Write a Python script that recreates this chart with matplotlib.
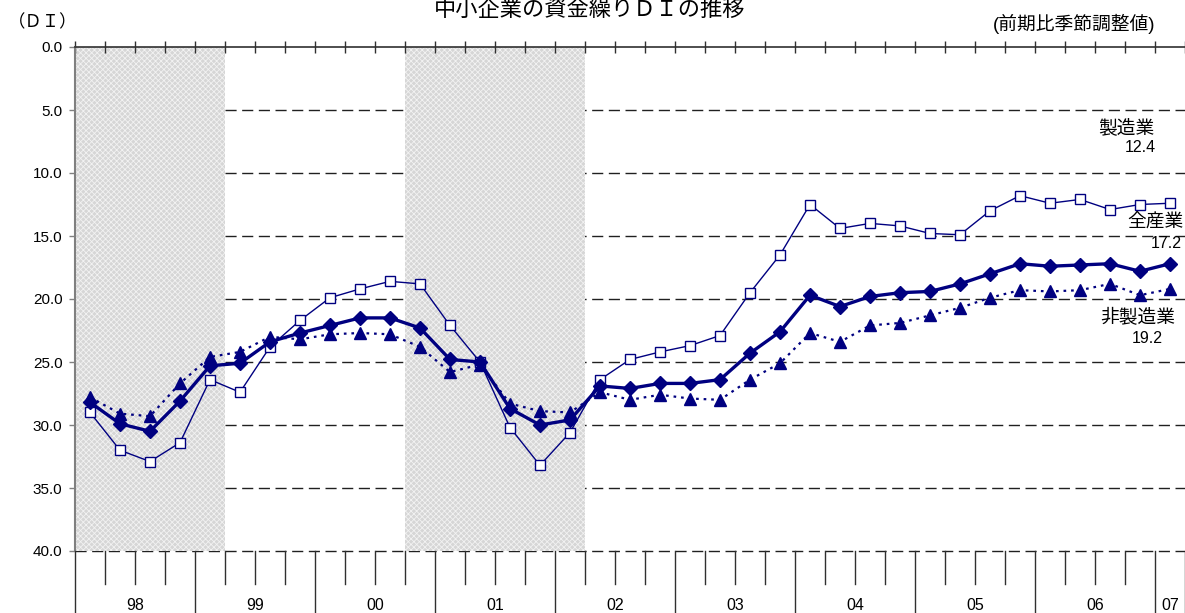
import matplotlib
matplotlib.use("Agg")
import matplotlib.pyplot as plt
import numpy as np

plt.rcParams['font.family'] = ['Liberation Sans', 'Noto Sans CJK JP', 'DejaVu Sans']
plt.rcParams['hatch.linewidth'] = 0.6

# Quarterly data, 1998Q1 .. 2007Q1
quarters = ["98Q1", "98Q2", "98Q3", "98Q4", "99Q1", "99Q2", "99Q3", "99Q4",
            "00Q1", "00Q2", "00Q3", "00Q4", "01Q1", "01Q2", "01Q3", "01Q4",
            "02Q1", "02Q2", "02Q3", "02Q4", "03Q1", "03Q2", "03Q3", "03Q4",
            "04Q1", "04Q2", "04Q3", "04Q4", "05Q1", "05Q2", "05Q3", "05Q4",
            "06Q1", "06Q2", "06Q3", "06Q4", "07Q1"]

all_industries = [28.2, 29.9, 30.5, 28.1, 25.3, 25.1, 23.4, 22.7,
                  22.1, 21.5, 21.5, 22.3, 24.8, 25.0, 28.7, 30.0,
                  29.6, 26.9, 27.1, 26.7, 26.7, 26.4, 24.3, 22.6,
                  19.7, 20.6, 19.8, 19.5, 19.4, 18.8, 18.0, 17.2,
                  17.4, 17.3, 17.2, 17.8, 17.2]

manufacturing = [29.0, 32.0, 32.9, 31.4, 26.4, 27.4, 23.8, 21.7,
                 19.9, 19.2, 18.6, 18.8, 22.1, 25.0, 30.2, 33.2,
                 30.6, 26.4, 24.8, 24.2, 23.7, 22.9, 19.5, 16.5,
                 12.5, 14.4, 14.0, 14.2, 14.8, 14.9, 13.0, 11.8,
                 12.4, 12.1, 12.9, 12.5, 12.4]

non_manufacturing = [27.8, 29.1, 29.3, 26.7, 24.6, 24.2, 23.0, 23.2,
                     22.8, 22.7, 22.8, 23.8, 25.8, 25.2, 28.3, 28.9,
                     29.0, 27.4, 28.0, 27.6, 27.9, 28.0, 26.4, 25.1,
                     22.7, 23.4, 22.1, 21.9, 21.3, 20.7, 19.9, 19.3,
                     19.4, 19.3, 18.8, 19.7, 19.2]

year_labels = ["98", "99", "00", "01", "02", "03", "04", "05", "06", "07"]
shade_spans = [(0, 5), (11, 17)]  # quarter index ranges (start, end)
y_ticks = [0, 5, 10, 15, 20, 25, 30, 35, 40]

NAVY = '#000080'
W, H = 1185, 613
fig = plt.figure(figsize=(W / 100, H / 100), dpi=100)

left_px, right_px, top_px, bot_px = 75, 1185, 47, 551
ax = fig.add_axes([left_px / W, (H - bot_px) / H, (right_px - left_px) / W, (bot_px - top_px) / H])
n = len(quarters)
ax.set_xlim(0, n)
ax.set_ylim(40, 0)

x = np.arange(n) + 0.5

# dashed grid lines
for yv in y_ticks[1:]:
    ax.axhline(yv, color='#202020', lw=1.0, ls=(0, (8, 4)), zorder=0, clip_on=False)

# shaded periods
for s, e in shade_spans:
    ax.axvspan(s, e, facecolor='#d6d6d6', edgecolor='#f2f2f2', hatch='xxxxxx', lw=0, zorder=1)

ax.plot(x, non_manufacturing, color=NAVY, lw=1.6, ls=(0, (1.2, 2.2)), marker='^', ms=8,
        mfc=NAVY, mec=NAVY, zorder=3)
ax.plot(x, manufacturing, color=NAVY, lw=1.0, marker='s', ms=6.5, mfc='white', mec=NAVY,
        mew=1.0, zorder=4)
ax.plot(x, all_industries, color=NAVY, lw=2.4, marker='D', ms=7, mfc=NAVY, mec=NAVY, zorder=5)

# spines and ticks
for sp in ['right', 'bottom']:
    ax.spines[sp].set_visible(False)
ax.spines['top'].set_color('#303030')
ax.spines['top'].set_linewidth(1.2)
ax.spines['left'].set_color('#808080')
ax.spines['left'].set_linewidth(1.5)
ax.xaxis.set_ticks_position('top')
ax.set_xticks(np.arange(0, n + 1))
ax.tick_params(axis='x', direction='inout', length=8, width=1.0, color='#303030', labeltop=False)
ax.set_yticks(y_ticks)
ax.set_yticklabels([f"{v:.1f}" for v in y_ticks], fontsize=11)
ax.tick_params(axis='y', direction='out', length=4, width=1.0, color='#808080', pad=5)

# bottom category strip
ax2 = fig.add_axes([left_px / W, 0, (right_px - left_px) / W, (H - bot_px) / H])
ax2.set_xlim(0, n)
ax2.set_ylim(0, 1)
ax2.axis('off')
short = 1 - 33 / 62
for q in range(n + 1):
    if q % 4 == 0 or q == n:
        ax2.plot([q, q], [0, 1], color='#303030', lw=1.0, clip_on=False)
    else:
        ax2.plot([q, q], [short, 1], color='#303030', lw=1.0, clip_on=False)
for i, lab in enumerate(year_labels):
    start = i * 4
    end = min(start + 4, n)
    ax2.text((start + end) / 2, 8 / 62, lab, ha='center', va='center', fontsize=11.5)

# texts
fig.text(590 / W, 1.0, "中小企業の資金繰りＤＩの推移", ha='center', va='top', fontsize=16)
fig.text(8 / W, 1 - 22 / H, "（ＤＩ）", ha='left', va='center', fontsize=12.5)
fig.text(1155 / W, 1 - 24 / H, "(前期比季節調整値)", ha='right', va='center', fontsize=13.5)

def px_text(xp, yp, s, fs, ha='center'):
    fig.text(xp / W, 1 - yp / H, s, ha=ha, va='center', fontsize=fs)

px_text(1126, 128, "製造業", 13.5)
px_text(1140, 147, "12.4", 11.5)
px_text(1155, 223, "全産業", 13.5)
px_text(1166, 243, "17.2", 11.5)
px_text(1138, 318, "非製造業", 13.5)
px_text(1147, 339, "19.2", 11.5)

fig.savefig("out.png", dpi=100)
